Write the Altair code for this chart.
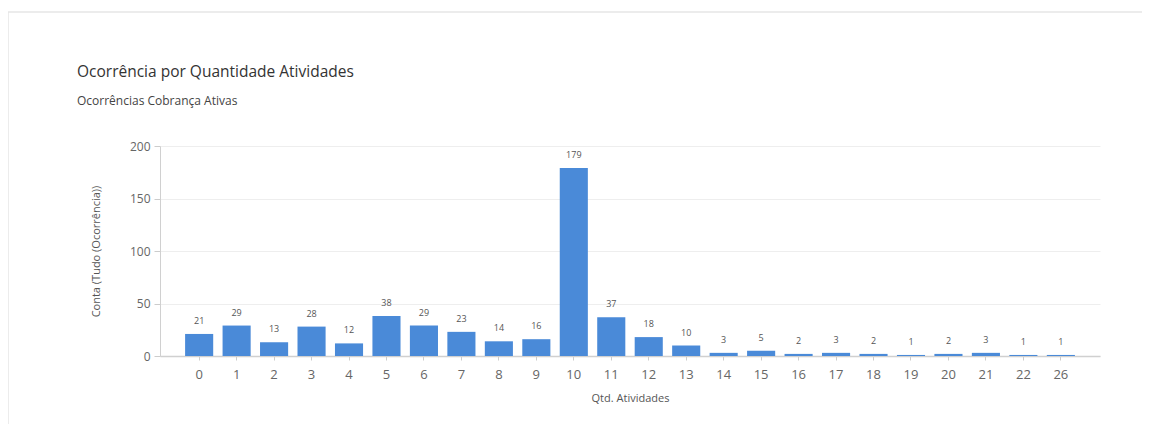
import altair as alt
import pandas as pd

categories = ["0", "1", "2", "3", "4", "5", "6", "7", "8", "9", "10", "11",
              "12", "13", "14", "15", "16", "17", "18", "19", "20", "21", "22", "26"]
counts = [21, 29, 13, 28, 12, 38, 29, 23, 14, 16, 179, 37,
          18, 10, 3, 5, 2, 3, 2, 1, 2, 3, 1, 1]
title_text = "Ocorrência por Quantidade Atividades"
subtitle_text = "Ocorrências Cobrança Ativas"

df = pd.DataFrame({"qtd": categories, "n": counts})

FONT = "Open Sans"
BLUE = "#4A8AD8"

x_enc = alt.X("qtd:O", sort=categories, title="Qtd. Atividades",
              scale=alt.Scale(paddingInner=0.25, paddingOuter=0.67),
              axis=alt.Axis(labelAngle=0, labelFontSize=13, labelColor="#666666",
                            labelPadding=8, tickSize=4, tickColor="#cccccc",
                            domainColor="#d0d0d0", domainWidth=1.5,
                            titleFontSize=11, titleColor="#555555", titleFontWeight="normal",
                            titlePadding=11, grid=False))
y_enc = alt.Y("n:Q", title="Conta (Tudo (Ocorrência))",
              scale=alt.Scale(domain=[0, 200]),
              axis=alt.Axis(values=[0, 50, 100, 150, 200], labelFontSize=12,
                            labelColor="#666666", labelPadding=4, tickSize=6,
                            tickColor="#cccccc", domainColor="#d0d0d0",
                            gridColor="#eeeeee", titleFontSize=11,
                            titleColor="#555555", titleFontWeight="normal",
                            titlePadding=28))

bars = alt.Chart(df).mark_bar(color=BLUE).encode(x=x_enc, y=y_enc)
labels = alt.Chart(df).mark_text(fontSize=9, color="#555555", dy=-13,
                                 baseline="middle", font=FONT).encode(
    x=alt.X("qtd:O", sort=categories), y="n:Q", text="n:Q")

one = pd.DataFrame({"k": [0]})
border = alt.Chart(one).mark_rect(
    fill=None, stroke="#e6e6e6", strokeWidth=1.5).encode(
    x=alt.value(-152), x2=alt.value(1300), y=alt.value(-134), y2=alt.value(500))

title = alt.Chart(one).mark_text(
    text=title_text, fontSize=15.5, color="#333333", font=FONT,
    align="left", baseline="alphabetic").encode(x=alt.value(-83), y=alt.value(-69))
subtitle = alt.Chart(one).mark_text(
    text=subtitle_text, fontSize=12, color="#444444", font=FONT,
    align="left", baseline="alphabetic").encode(x=alt.value(-83), y=alt.value(-41))

chart = alt.layer(border, bars, labels, title, subtitle).properties(
    width=940, height=210,
    autosize=alt.AutoSizeParams(type="none"),
    padding={"left": 152, "top": 138, "right": 42, "bottom": 68},
).configure(font=FONT).configure_view(stroke=None)

chart.save("out.html", embed_options={"renderer": "svg", "actions": False})
